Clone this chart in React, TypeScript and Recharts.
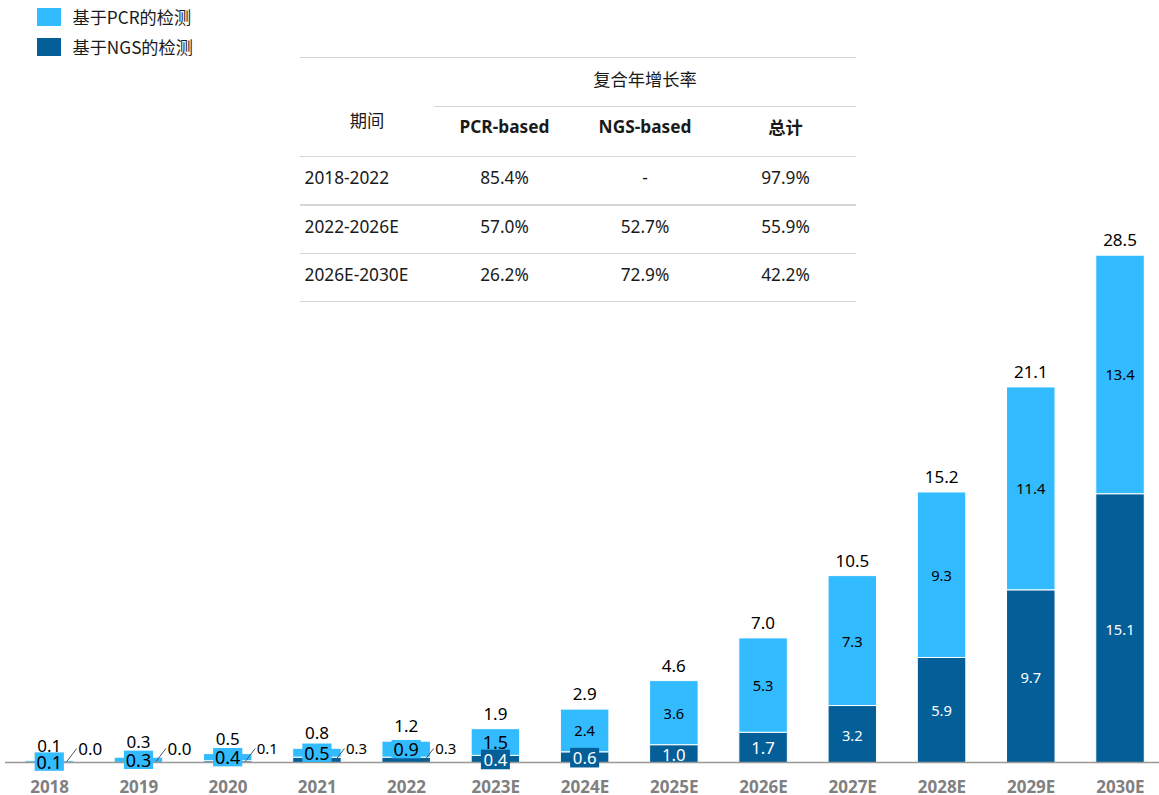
import React from 'react';
import { BarChart, Bar, XAxis, YAxis, LabelList, Legend } from 'recharts';

// ---------- data ----------
const categories = ['2018', '2019', '2020', '2021', '2022', '2023E', '2024E', '2025E', '2026E', '2027E', '2028E', '2029E', '2030E'];
const pcrValues = [0.1, 0.3, 0.4, 0.5, 0.9, 1.5, 2.4, 3.6, 5.3, 7.3, 9.3, 11.4, 13.4];
const ngsValues = [0.0, 0.0, 0.1, 0.3, 0.3, 0.4, 0.6, 1.0, 1.7, 3.2, 5.9, 9.7, 15.1];
const totalValues = [0.1, 0.3, 0.5, 0.8, 1.2, 1.9, 2.9, 4.6, 7.0, 10.5, 15.2, 21.1, 28.5];

const seriesNames = ['基于PCR的检测', '基于NGS的检测'];

const cagrTitle = '复合年增长率';
const cagrPeriodHeader = '期间';
const cagrColumns = ['PCR-based', 'NGS-based', '总计'];
const cagrPeriods = ['2018-2022', '2022-2026E', '2026E-2030E'];
const cagrPCR = ['85.4%', '57.0%', '26.2%'];
const cagrNGS = ['-', '52.7%', '72.9%'];
const cagrTotal = ['97.9%', '55.9%', '42.2%'];

const data = categories.map((c, i) => ({
  category: c,
  ngs: ngsValues[i],
  pcr: pcrValues[i],
  total: totalValues[i],
}));

// ---------- style ----------
const LIGHT = '#33BBFF';
const DARK = '#045E98';
const FONT = "'Noto Sans', 'Noto Sans CJK SC', sans-serif";
const CJK = "'Noto Sans CJK SC', 'Noto Sans', sans-serif";
const CHART_W = 1170;
const MARGIN_L = 5;
const MARGIN_R = 5;
const BAND = (CHART_W - MARGIN_L - MARGIN_R) / categories.length;
const LEADER_COUNT = 5; // first categories whose NGS value is labelled outside with a leader line

const rectOf = (p: any) => {
  const vb = p.viewBox && typeof p.viewBox.x === 'number' ? p.viewBox : p;
  return {
    x: Number(vb.x ?? p.x),
    y: Number(vb.y ?? p.y),
    w: Number(vb.width ?? p.width),
    h: Number(vb.height ?? p.height),
  };
};

const idxOf = (r: { x: number; w: number }) => Math.floor((r.x + r.w / 2 - MARGIN_L) / BAND);

const PcrLabel = (p: any) => {
  const r = rectOf(p);
  const i = idxOf(r);
  const cx = r.x + r.w / 2;
  const cy = r.y + r.h / 2;
  const big = i <= 5;
  const fs = big ? 18 : 14.7;
  return (
    <g>
      {i < LEADER_COUNT && <rect x={cx - 14.6} y={cy - 9.2} width={29.2} height={18.4} fill={LIGHT} />}
      <text x={cx} y={cy} textAnchor="middle" dominantBaseline="central" fontSize={fs} fill="#000" fontFamily={FONT}>
        {Number(p.value).toFixed(1)}
      </text>
    </g>
  );
};

// NGS labels drawn outside with a leader line (small early values); anchored on the PCR segment
const NgsLeaderLabel = (p: any) => {
  const r = rectOf(p);
  const i = idxOf(r);
  if (i >= LEADER_COUNT) return null;
  const cx = r.x + r.w / 2;
  const pxPerUnit = r.h / pcrValues[i];
  const bottom = r.y + r.h + Number(p.value) * pxPerUnit;
  const fs = i <= 1 ? 17 : 15;
  return (
    <g>
      <line x1={cx + 17.5} y1={bottom - 1} x2={cx + 27.5} y2={bottom - 14} stroke="#4a5563" strokeWidth={1} />
      <text x={cx + 29} y={bottom - 14.5} textAnchor="start" dominantBaseline="central" fontSize={fs} fill="#000" fontFamily={FONT}>
        {Number(p.value).toFixed(1)}
      </text>
    </g>
  );
};

const NgsLabel = (p: any) => {
  const r = rectOf(p);
  const i = idxOf(r);
  if (i < LEADER_COUNT) return null;
  const cx = r.x + r.w / 2;
  const cy = r.y + r.h / 2;
  const fs = i <= 8 ? 16.8 : 14.7;
  return (
    <g>
      {i <= 6 && <rect x={cx - 14.5} y={cy + 0.5 - 9.8} width={29} height={19.6} fill={DARK} />}
      <text x={cx} y={cy + 0.5} textAnchor="middle" dominantBaseline="central" fontSize={fs} fill="#fff" fontFamily={FONT}>
        {Number(p.value).toFixed(1)}
      </text>
    </g>
  );
};

const TotalLabel = (p: any) => {
  const r = rectOf(p);
  const cx = r.x + r.w / 2;
  return (
    <text x={cx} y={r.y - 15.5} textAnchor="middle" dominantBaseline="central" fontSize={17} fill="#000" fontFamily={FONT}>
      {Number(p.value).toFixed(1)}
    </text>
  );
};

const CategoryTick = (p: any) => (
  <text
    x={p.x}
    y={p.y + 24}
    textAnchor="middle"
    dominantBaseline="central"
    fontSize={17}
    fontWeight={700}
    fill="#808080"
    fontFamily={FONT}
  >
    {p.payload.value}
  </text>
);

const LegendContent = () => (
  <div style={{ fontFamily: CJK, fontSize: 17.2, color: '#1a1a1a' }}>
    {seriesNames.map((name, i) => (
      <div key={name} style={{ display: 'flex', alignItems: 'center', height: 17.4, marginBottom: i === 0 ? 12.6 : 0 }}>
        <div style={{ width: 23.7, height: 17.4, background: i === 0 ? LIGHT : DARK, marginRight: 11.5 }} />
        <span style={{ lineHeight: '17.4px', whiteSpace: 'nowrap' }}>{name}</span>
      </div>
    ))}
  </div>
);

// ---------- table ----------
const colEdges = [300, 434, 575, 715, 856];
const lineStyle = (top: number, left: number, right: number): React.CSSProperties => ({
  position: 'absolute',
  top: top - 0.75,
  left,
  width: right - left,
  height: 1.5,
  background: '#d6d6d6',
});
const cell = (cx: number, cy: number, text: string, bold = false, align: 'center' | 'left' = 'center', left?: number): React.ReactNode => (
  <div
    key={`${cx}-${cy}-${text}`}
    style={{
      position: 'absolute',
      top: cy - 14,
      height: 28,
      lineHeight: '28px',
      left: align === 'left' ? left : cx - 80,
      width: align === 'left' ? 200 : 160,
      textAlign: align,
      fontWeight: bold ? 700 : 400,
      whiteSpace: 'nowrap',
    }}
  >
    {text}
  </div>
);

const CagrTable = () => {
  const colCenters = [1, 2, 3].map((k) => (colEdges[k] + colEdges[k + 1]) / 2);
  const rowCenters = [177.7, 226.7, 275];
  const rowLines = [156.7, 205, 253.3, 301.7];
  return (
    <div style={{ position: 'absolute', left: 0, top: 0, width: 1159, height: 795, pointerEvents: 'none', fontFamily: FONT, fontSize: 17.3, color: '#1a1a1a' }}>
      <div style={lineStyle(57.3, colEdges[0], colEdges[4])} />
      <div style={lineStyle(106.7, colEdges[1], colEdges[4])} />
      {rowLines.map((y) => (
        <div key={y} style={lineStyle(y, colEdges[0], colEdges[4])} />
      ))}
      <div style={{ fontFamily: CJK }}>
        {cell((colEdges[1] + colEdges[4]) / 2, 79.3, cagrTitle)}
        {cell((colEdges[0] + colEdges[1]) / 2, 120, cagrPeriodHeader)}
      </div>
      {cagrColumns.map((c, k) => (
        <div key={c} style={{ fontFamily: k === 2 ? CJK : FONT }}>{cell(colCenters[k], 127.3, c, true)}</div>
      ))}
      {cagrPeriods.map((p, r) => (
        <React.Fragment key={p}>
          {cell(0, rowCenters[r], p, false, 'left', 304.5)}
          {cell(colCenters[0], rowCenters[r], cagrPCR[r])}
          {cell(colCenters[1], rowCenters[r], cagrNGS[r])}
          {cell(colCenters[2], rowCenters[r], cagrTotal[r])}
        </React.Fragment>
      ))}
    </div>
  );
};

export default function App() {
  return (
    <div style={{ position: 'fixed', left: 0, top: 0, width: 1159, height: 795, overflow: 'hidden', background: '#fff' }}>
      <BarChart
        width={CHART_W}
        height={795}
        data={data}
        margin={{ top: 228.5, right: MARGIN_R, bottom: 2.5, left: MARGIN_L }}
        barSize={48.5}
      >
        <XAxis
          dataKey="category"
          height={30}
          axisLine={{ stroke: '#999999', strokeWidth: 1.6 }}
          tickLine={false}
          tickSize={0}
          tickMargin={0}
          interval={0}
          tick={<CategoryTick />}
        />
        <YAxis hide domain={[0, 30]} />
        <Legend
          layout="horizontal"
          verticalAlign="middle"
          align="center"
          content={<LegendContent />}
          wrapperStyle={{ position: 'absolute', left: 37.3, top: 8.3, width: 'auto', height: 'auto', right: 'auto', bottom: 'auto' }}
        />
        <Bar dataKey="ngs" name={seriesNames[1]} stackId="a" fill={DARK} stroke="#ffffff" strokeWidth={1} isAnimationActive={false}>
          <LabelList dataKey="ngs" content={<NgsLabel />} />
        </Bar>
        <Bar dataKey="pcr" name={seriesNames[0]} stackId="a" fill={LIGHT} stroke="#ffffff" strokeWidth={1} isAnimationActive={false}>
          <LabelList dataKey="ngs" content={<NgsLeaderLabel />} />
          <LabelList dataKey="pcr" content={<PcrLabel />} />
          <LabelList dataKey="total" content={<TotalLabel />} />
        </Bar>
      </BarChart>
      <CagrTable />
    </div>
  );
}
